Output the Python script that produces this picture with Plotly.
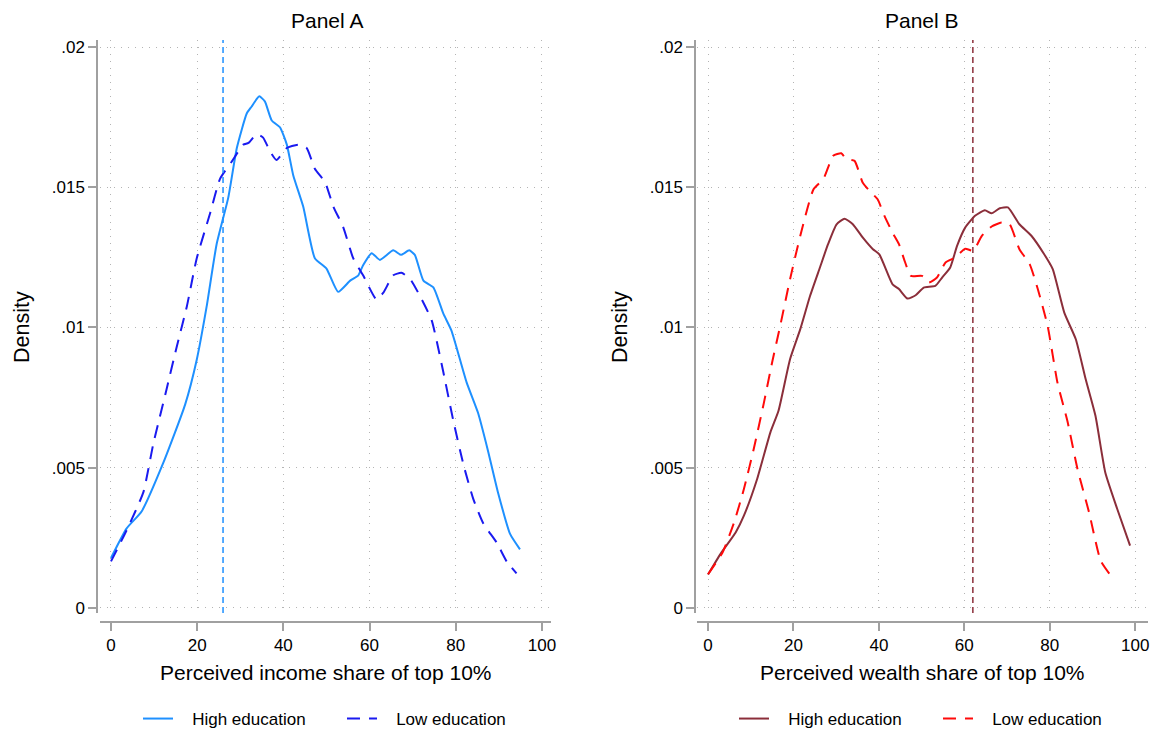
import plotly.graph_objects as go
from plotly.subplots import make_subplots

# Panel A: perceived income share of top 10% (kernel density)
inc_high_x = [0, 3.6, 7.1, 12.1, 17.2, 19.9, 22.2, 24.5, 27.2, 29.2, 31.5, 32.6, 34.4, 35.7,
              37.3, 39.2, 40.8, 42.3, 44.6, 47.3, 50.0, 52.7, 55.5, 57.4, 58.5, 60.5, 62.4,
              65.5, 67.3, 69.2, 70.5, 72.5, 74.8, 77.1, 79.0, 82.5, 85.2, 87.5, 89.8, 92.6, 94.9]
inc_high_y = [1.78, 2.83, 3.44, 5.16, 7.25, 8.85, 10.75, 12.96, 14.62, 16.4, 17.63, 17.87, 18.24,
              18.06, 17.38, 17.14, 16.52, 15.42, 14.31, 12.47, 12.1, 11.27, 11.67, 11.86, 12.22,
              12.65, 12.41, 12.75, 12.59, 12.75, 12.59, 11.67, 11.43, 10.5, 9.89, 8.05, 6.94,
              5.59, 4.12, 2.64, 2.09]
inc_low_x = [0, 3.6, 7.5, 9.8, 12.9, 15.2, 17.6, 19.9, 23.0, 25.3, 28.0, 30.7, 31.9, 33.8,
             35.3, 36.9, 38.4, 40.8, 43.5, 45.4, 47.3, 49.7, 51.6, 53.9, 56.2, 58.5, 61.6,
             63.2, 65.5, 67.4, 69.4, 71.7, 74.4, 77.1, 79.4, 81.8, 84.1, 86.4, 89.5, 91.8, 94.1]
inc_low_y = [1.66, 2.76, 4.12, 5.84, 7.8, 9.28, 10.75, 12.47, 14.07, 15.3, 15.91, 16.52, 16.58,
             16.89, 16.77, 16.28, 15.97, 16.4, 16.52, 16.4, 15.66, 15.17, 14.31, 13.57, 12.47,
             11.86, 11.0, 11.24, 11.86, 11.95, 11.73, 11.12, 10.26, 8.42, 6.7, 5.1, 3.87, 3.01,
             2.33, 1.66, 1.23]
inc_actual = 26

# Panel B: perceived wealth share of top 10%
wlt_high_x = [0, 2.9, 6.5, 8.4, 11.5, 14.6, 16.5, 19.2, 21.6, 23.9, 26.2, 28.1, 30.1, 32.0,
              33.9, 36.2, 38.6, 40.1, 43.2, 44.7, 46.7, 48.6, 50.5, 53.2, 54.8, 56.7, 58.3,
              60.2, 62.5, 64.8, 66.4, 68.3, 70.2, 72.9, 75.7, 78.7, 80.7, 83.4, 86.1, 88.4,
              90.7, 93.0, 95.8, 98.8]
wlt_high_y = [1.19, 1.92, 2.70, 3.29, 4.60, 6.26, 7.03, 8.87, 9.94, 11.13, 12.14, 12.97, 13.68,
              13.88, 13.68, 13.21, 12.79, 12.61, 11.54, 11.37, 11.03, 11.15, 11.42, 11.48, 11.78,
              12.14, 12.91, 13.56, 13.98, 14.18, 14.07, 14.25, 14.28, 13.68, 13.27, 12.61, 12.08,
              10.53, 9.58, 8.16, 6.85, 4.83, 3.53, 2.22]
wlt_low_x = [0, 3.4, 6.1, 8.4, 10.7, 13.1, 15.0, 16.9, 19.2, 21.6, 24.7, 27.0, 29.3, 31.2,
             32.4, 34.3, 36.2, 37.8, 39.7, 41.3, 43.2, 44.7, 45.9, 47.5, 50.1, 51.7, 53.6,
             55.6, 57.9, 60.2, 62.1, 64.1, 66.4, 68.7, 70.6, 72.9, 75.3, 77.2, 79.5, 81.8,
             84.2, 86.5, 89.2, 91.9, 94.0]
wlt_low_y = [1.2, 1.98, 3.05, 4.24, 5.67, 7.33, 8.75, 10.06, 11.72, 13.27, 14.93, 15.29, 16.12,
             16.21, 16.0, 15.94, 15.17, 14.87, 14.57, 13.98, 13.38, 12.97, 12.43, 11.84, 11.84,
             11.60, 11.78, 12.32, 12.50, 12.81, 12.73, 13.27, 13.60, 13.74, 13.68, 12.79, 12.26,
             11.37, 10.06, 8.04, 6.62, 4.95, 3.41, 1.69, 1.21]
wlt_actual = 62

y_ticks = [0, 0.005, 0.01, 0.015, 0.02]
y_ticklabels = ["0", ".005", ".01", ".015", ".02"]
x_ticks = [0, 20, 40, 60, 80, 100]

FONT = "Liberation Sans, Arial, sans-serif"
C_A_HIGH = "#1E90FF"
C_A_LOW = "#1A1AF0"
C_B_HIGH = "#8B2E3A"
C_B_LOW = "#FF0A0A"
PAD = "\u00a0\u00a0\u00a0"  # extra gap between legend key and label

# the page body has an 8px margin, so the figure is sized to fit and positions are offset
OFF = 8
W, H = 1159 - OFF, 733 - OFF


def px(x):
    return (x - OFF) / W


def py(y):
    return 1 - (y - OFF) / H


def scaled(v):
    return [y / 1000 for y in v]


fig = make_subplots(rows=1, cols=2)

fig.add_trace(go.Scatter(x=inc_high_x, y=scaled(inc_high_y), mode="lines", name=PAD + "High education",
                         line=dict(color=C_A_HIGH, width=2, shape="spline", smoothing=0.5),
                         legend="legend"), row=1, col=1)
fig.add_trace(go.Scatter(x=inc_low_x, y=scaled(inc_low_y), mode="lines", name=PAD + "Low education",
                         line=dict(color=C_A_LOW, width=2, dash="13px,9px", shape="spline", smoothing=0.5),
                         legend="legend"), row=1, col=1)
fig.add_trace(go.Scatter(x=wlt_high_x, y=scaled(wlt_high_y), mode="lines", name=PAD + "High education",
                         line=dict(color=C_B_HIGH, width=2, shape="spline", smoothing=0.5),
                         legend="legend2"), row=1, col=2)
fig.add_trace(go.Scatter(x=wlt_low_x, y=scaled(wlt_low_y), mode="lines", name=PAD + "Low education",
                         line=dict(color=C_B_LOW, width=2, dash="13px,9px", shape="spline", smoothing=0.5),
                         legend="legend2"), row=1, col=2)

# vertical lines for the actual shares
fig.add_vline(x=inc_actual, line=dict(color=C_A_HIGH, width=1.5, dash="6px,4px"), row=1, col=1)
fig.add_vline(x=wlt_actual, line=dict(color=C_B_HIGH, width=1.5, dash="6px,4px"), row=1, col=2)

y_dom = [py(613), py(40)]
axis_common = dict(showgrid=True, gridcolor="#b4b4b4", griddash="1px,6px", gridwidth=1,
                   zeroline=False, showline=True, linecolor="#a0a0a0", linewidth=1.5,
                   ticks="outside", tickcolor="#a0a0a0", ticklen=8, tickwidth=1.5,
                   automargin=False,
                   tickfont=dict(family=FONT, size=17, color="black"))

fig.update_layout(
    xaxis=dict(domain=[px(100), px(551)], range=[-2.55, 102.1], tickvals=x_ticks,
               anchor="free", position=py(622), **axis_common),
    xaxis2=dict(domain=[px(697), px(1148)], range=[-2.58, 103.0], tickvals=x_ticks,
                anchor="free", position=py(622), **axis_common),
    yaxis=dict(domain=y_dom, range=[-0.00018, 0.02025], tickvals=y_ticks, ticktext=y_ticklabels,
               anchor="free", position=px(97), **axis_common),
    yaxis2=dict(domain=y_dom, range=[-0.00018, 0.02025], tickvals=y_ticks, ticktext=y_ticklabels,
                anchor="free", position=px(695), **axis_common),
)

fig.update_layout(
    width=W, height=H,
    margin=dict(l=0, r=0, t=0, b=0, autoexpand=False),
    paper_bgcolor="white", plot_bgcolor="white",
    font=dict(family=FONT, size=17, color="black"),
    legend=dict(orientation="h", x=px(138), y=py(719), xanchor="left", yanchor="middle",
                entrywidth=159, font=dict(size=17)),
    legend2=dict(orientation="h", x=px(734), y=py(719), xanchor="left", yanchor="middle",
                 entrywidth=159, font=dict(size=17)),
)

# panel titles and axis titles
titles = [
    ("Panel A", 327, 23, "top"),
    ("Panel B", 922, 23, "top"),
    ("Perceived income share of top 10%", 326, 672, "middle"),
    ("Perceived wealth share of top 10%", 922, 672, "middle"),
]
for text, tx, ty, anchor in titles:
    fig.add_annotation(text=text, x=px(tx), y=py(ty) if anchor == "middle" else 1.0,
                       xref="paper", yref="paper", showarrow=False,
                       xanchor="center", yanchor=anchor, borderpad=0,
                       font=dict(family=FONT, size=21, color="black"))
for tx in [22, 620]:
    fig.add_annotation(text="Density", x=px(tx), y=py(327), xref="paper", yref="paper",
                       showarrow=False, textangle=-90, xanchor="center", yanchor="middle",
                       font=dict(family=FONT, size=21.5, color="black"))

fig.write_html("out.html")
